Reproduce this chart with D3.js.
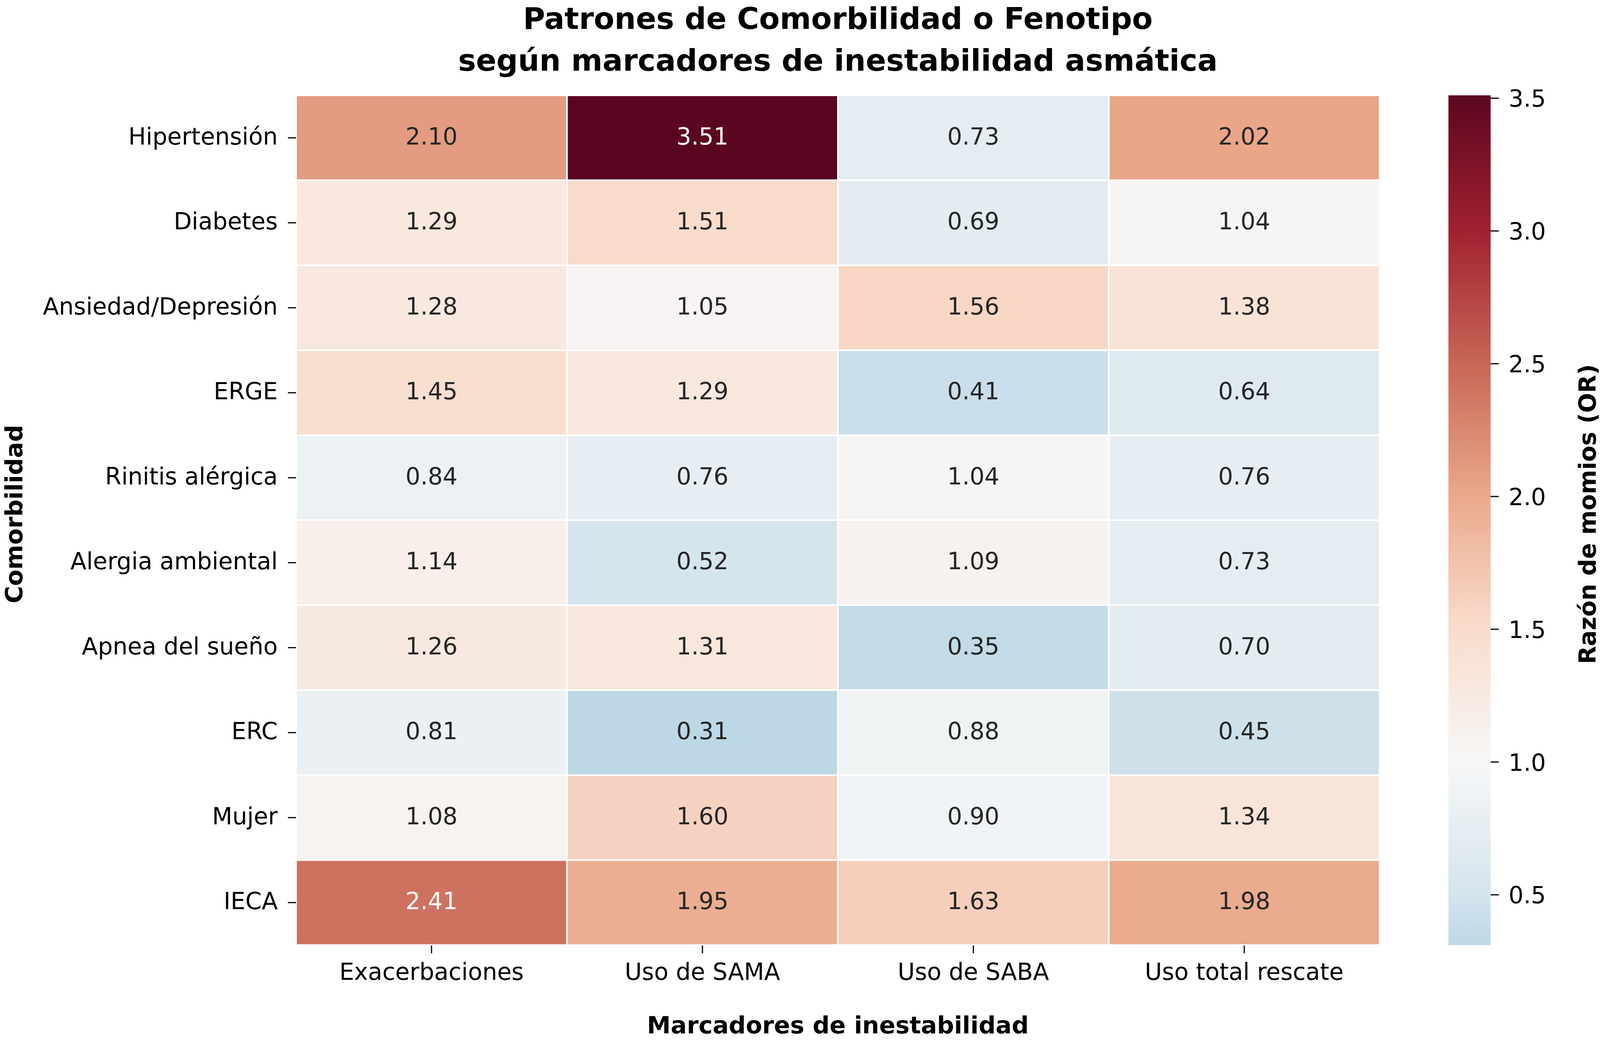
<!DOCTYPE html>
<html><head><meta charset="utf-8">
<script src="https://cdn.jsdelivr.net/npm/d3@7"></script>
<style>body{margin:0;background:#fff}</style>
</head><body>
<svg id="c" width="4100" height="2662" xmlns="http://www.w3.org/2000/svg"></svg>
<script>
// ---- data ----
const comorbidities = ["Hipertensión","Diabetes","Ansiedad/Depresión","ERGE","Rinitis alérgica","Alergia ambiental","Apnea del sueño","ERC","Mujer","IECA"];
const markers = ["Exacerbaciones","Uso de SAMA","Uso de SABA","Uso total rescate"];
const exacerbaciones  = [2.10,1.29,1.28,1.45,0.84,1.14,1.26,0.81,1.08,2.41];
const usoSAMA         = [3.51,1.51,1.05,1.29,0.76,0.52,1.31,0.31,1.60,1.95];
const usoSABA         = [0.73,0.69,1.56,0.41,1.04,1.09,0.35,0.88,0.90,1.63];
const usoTotalRescate = [2.02,1.04,1.38,0.64,0.76,0.73,0.70,0.45,1.34,1.98];
const colorbarTicks = [0.5,1.0,1.5,2.0,2.5,3.0,3.5];
const titleLines = ["Patrones de Comorbilidad o Fenotipo","según marcadores de inestabilidad asmática"];
const xLabel = "Marcadores de inestabilidad";
const yLabel = "Comorbilidad";
const cbarLabel = "Razón de momios (OR)";
const centerValue = 1.0;

const series = [exacerbaciones, usoSAMA, usoSABA, usoTotalRescate];
const cells = [];
comorbidities.forEach((c, i) => markers.forEach((m, j) => cells.push({row: c, col: m, v: series[j][i]})));

const allVals = cells.map(d => d.v);
const vmin = d3.min(allVals), vmax = d3.max(allVals);
const vrange = Math.max(vmax - centerValue, centerValue - vmin);

// matplotlib RdBu_r
const rdbuR = ["#053061","#2166ac","#4393c3","#92c5de","#d1e5f0","#f7f7f7","#fddbc7","#f4a582","#d6604d","#b2182b","#67001f"];
const cmap = d3.scaleLinear().domain(d3.range(11).map(k => k / 10)).range(rdbuR).interpolate(d3.interpolateRgb).clamp(true);
const rawColor = v => cmap((v - (centerValue - vrange)) / (2 * vrange));
// slight desaturation to match the reference rendering
const DESAT = 0.17;
const color = v => {
  const c = d3.rgb(rawColor(v));
  const g = 0.3 * c.r + 0.59 * c.g + 0.11 * c.b;
  return d3.rgb(c.r + (g - c.r) * DESAT, c.g + (g - c.g) * DESAT, c.b + (g - c.b) * DESAT).formatHex();
};

function lum(c) {
  const r = d3.rgb(c);
  const f = x => { x /= 255; return x <= 0.03928 ? x / 12.92 : Math.pow((x + 0.055) / 1.055, 2.4); };
  return 0.2126 * f(r.r) + 0.7152 * f(r.g) + 0.0722 * f(r.b);
}

// ---- layout ----
const FONT = "DejaVu Sans, Liberation Sans, sans-serif";
const L = 758, R = 3532, T = 244, B = 2419;
const svg = d3.select("#c");
svg.append("rect").attr("width", 4100).attr("height", 2662).attr("fill", "#fff");

const x = d3.scaleBand().domain(markers).range([L, R]);
const y = d3.scaleBand().domain(comorbidities).range([T, B]);

// cells
svg.append("g").selectAll("rect").data(cells).join("rect")
  .attr("x", d => x(d.col)).attr("y", d => y(d.row))
  .attr("width", x.bandwidth()).attr("height", y.bandwidth())
  .attr("fill", d => color(d.v))
  .attr("stroke", "#fff").attr("stroke-width", 4);

// annotations
svg.append("g").selectAll("text").data(cells).join("text")
  .attr("x", d => x(d.col) + x.bandwidth() / 2)
  .attr("y", d => y(d.row) + y.bandwidth() / 2 + 17)
  .attr("text-anchor", "middle")
  .attr("font-family", FONT).attr("font-size", 60)
  .attr("fill", d => lum(rawColor(d.v)) > 0.408 ? "#262626" : "#ffffff")
  .text(d => d.v.toFixed(2));

// y axis
const gy = svg.append("g").attr("transform", `translate(${L},0)`)
  .call(d3.axisLeft(y).tickSize(21).tickPadding(26));
gy.select(".domain").remove();
gy.selectAll(".tick line").attr("stroke", "#000").attr("stroke-width", 3);
gy.selectAll(".tick text").attr("font-family", FONT).attr("font-size", 60).attr("fill", "#000")
  .attr("dy", null).attr("y", 17);

// x axis
const gx = svg.append("g").attr("transform", `translate(0,${B + 1})`)
  .call(d3.axisBottom(x).tickSize(20).tickPadding(20));
gx.select(".domain").remove();
gx.selectAll(".tick line").attr("stroke", "#000").attr("stroke-width", 3);
gx.selectAll(".tick text").attr("font-family", FONT).attr("font-size", 60).attr("fill", "#000")
  .attr("dy", null).attr("y", 88);

// axis labels
svg.append("text").attr("x", (L + R) / 2).attr("y", 2645).attr("text-anchor", "middle")
  .attr("font-family", FONT).attr("font-weight", "bold").attr("font-size", 61).attr("fill", "#000")
  .text(xLabel);
svg.append("text").attr("transform", `translate(57,1316) rotate(-90)`).attr("text-anchor", "middle")
  .attr("font-family", FONT).attr("font-weight", "bold").attr("font-size", 61).attr("fill", "#000")
  .text(yLabel);

// title
svg.append("g").selectAll("text").data(titleLines).join("text")
  .attr("x", (L + R) / 2).attr("y", (d, i) => 74 + i * 107)
  .attr("text-anchor", "middle")
  .attr("font-family", FONT).attr("font-weight", "bold").attr("font-size", 77).attr("fill", "#000")
  .text(d => d);

// colorbar
const CBL = 3708, CBR = 3816;
const cy = d3.scaleLinear().domain([vmin, vmax]).range([B, T]);
const defs = svg.append("defs");
const grad = defs.append("linearGradient").attr("id", "cbg")
  .attr("x1", 0).attr("y1", 1).attr("x2", 0).attr("y2", 0);
d3.range(0, 101).forEach(k => {
  const v = vmin + (vmax - vmin) * k / 100;
  grad.append("stop").attr("offset", k + "%").attr("stop-color", color(v));
});
svg.append("rect").attr("x", CBL).attr("y", T).attr("width", CBR - CBL).attr("height", B - T)
  .attr("fill", "url(#cbg)");
const gc = svg.append("g").attr("transform", `translate(${CBR},0)`)
  .call(d3.axisRight(cy).tickValues(colorbarTicks).tickFormat(d3.format(".1f")).tickSize(21).tickPadding(25));
gc.select(".domain").remove();
gc.selectAll(".tick line").attr("stroke", "#000").attr("stroke-width", 3);
gc.selectAll(".tick text").attr("font-family", FONT).attr("font-size", 60).attr("fill", "#000")
  .attr("dy", null).attr("y", 22);

svg.append("text").attr("transform", `translate(4085,1316) rotate(-90)`).attr("text-anchor", "middle")
  .attr("font-family", FONT).attr("font-weight", "bold").attr("font-size", 60).attr("fill", "#000")
  .text(cbarLabel);
</script>
</body></html>
